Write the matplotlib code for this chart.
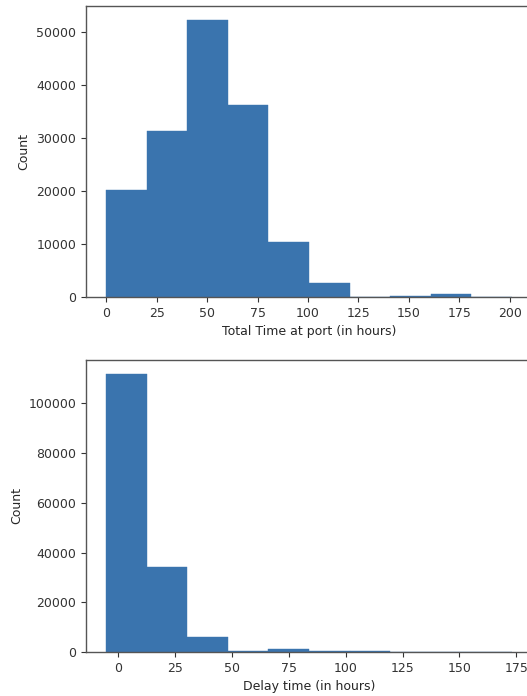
import numpy as np
import matplotlib
matplotlib.use("Agg")
import matplotlib.pyplot as plt

# Total time at port histogram (10 equal bins)
port_min, port_max = 0.0, 201.0
port_counts = [20200, 31300, 52300, 36300, 10400, 2550, 0, 250, 500, 0]

# Delay time histogram (10 equal bins)
delay_min, delay_max = -5.2, 173.0
delay_counts = [111800, 34000, 6000, 500, 1200, 500, 500, 0, 0, 0]

port_xlabel = "Total Time at port (in hours)"
delay_xlabel = "Delay time (in hours)"
ylabel = "Count"

bar_color = "#3a74ae"

W, H = 527, 696
fig = plt.figure(figsize=(W / 100, H / 100), dpi=100)

def add_hist(rect, vmin, vmax, counts, xlabel, xticks):
    ax = fig.add_axes(rect)
    edges = np.linspace(vmin, vmax, len(counts) + 1)
    centers = (edges[:-1] + edges[1:]) / 2
    ax.hist(centers, bins=edges, weights=counts, color=bar_color,
            edgecolor=bar_color, linewidth=0.3)
    ax.set_xlabel(xlabel, fontsize=9, color="#262626")
    ax.set_ylabel(ylabel, fontsize=9, color="#262626")
    ax.set_xticks(xticks)
    ax.tick_params(labelsize=9, colors="#333333", length=3.5)
    for s in ax.spines.values():
        s.set_color("#555555")
        s.set_linewidth(1.0)
    return ax

# axes rects in figure fractions (right edge extends beyond the canvas)
ax1 = add_hist([86 / W, 1 - 297 / H, 446 / W, 291 / H],
               port_min, port_max, port_counts, port_xlabel,
               [0, 25, 50, 75, 100, 125, 150, 175, 200])
ax2 = add_hist([86 / W, 1 - 652 / H, 446 / W, 292 / H],
               delay_min, delay_max, delay_counts, delay_xlabel,
               [0, 25, 50, 75, 100, 125, 150, 175])

fig.savefig("out.png", dpi=100)
